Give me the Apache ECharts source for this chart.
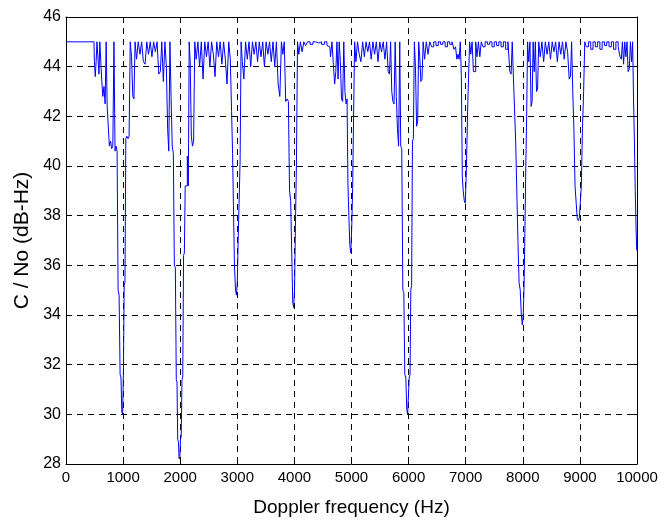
<!DOCTYPE html>
<html>
<head>
<meta charset="utf-8">
<script src="https://cdn.jsdelivr.net/npm/echarts@6/dist/echarts.min.js"></script>
<style>
  html, body { margin: 0; padding: 0; background: #fff; }
  #chart { width: 663px; height: 522px; }
</style>
</head>
<body>
<div id="chart"></div>
<script>
// Doppler frequency offsets (Hz) and the matching C/No readings (dB-Hz)
const dopplerHz = [
  0, 490, 505, 520, 535, 550, 570, 585, 600, 615,
  635, 655, 675, 695, 712, 730, 750, 770, 790, 810,
  830, 850, 868, 885, 905, 920, 940, 955, 970, 985,
  1000, 1012, 1025, 1040, 1055, 1075, 1095, 1115, 1135, 1160,
  1180, 1200, 1220, 1250, 1280, 1310, 1340, 1370, 1400, 1430,
  1460, 1490, 1520, 1550, 1580, 1610, 1640, 1665, 1690, 1720,
  1745, 1770, 1790, 1810, 1830, 1850, 1870, 1890, 1905, 1925,
  1938, 1950, 1962, 1975, 1988, 2000, 2010, 2025, 2037, 2052,
  2066, 2080, 2095, 2115, 2135, 2150, 2165, 2185, 2205, 2225,
  2245, 2265, 2295, 2325, 2355, 2385, 2415, 2445, 2475, 2505,
  2535, 2565, 2595, 2625, 2655, 2685, 2715, 2745, 2775, 2805,
  2835, 2865, 2890, 2910, 2925, 2940, 2960, 2978, 2992, 3008,
  3022, 3040, 3058, 3075, 3100, 3130, 3160, 3190, 3220, 3250,
  3280, 3310, 3340, 3370, 3400, 3430, 3460, 3490, 3520, 3550,
  3580, 3610, 3640, 3670, 3700, 3730, 3760, 3785, 3810, 3835,
  3860, 3885, 3905, 3925, 3945, 3962, 3980, 3995, 4010, 4025,
  4045, 4065, 4090, 4120, 4150, 4180, 4210, 4250, 4300, 4350,
  4400, 4450, 4500, 4550, 4590, 4620, 4645, 4670, 4695, 4715,
  4735, 4755, 4775, 4795, 4815, 4835, 4855, 4875, 4895, 4915,
  4930, 4945, 4962, 4980, 4995, 5012, 5028, 5045, 5065, 5090,
  5120, 5150, 5180, 5210, 5240, 5270, 5300, 5330, 5360, 5390,
  5420, 5450, 5480, 5510, 5540, 5570, 5600, 5630, 5655, 5675,
  5695, 5715, 5735, 5755, 5775, 5795, 5815, 5835, 5855, 5870,
  5890, 5908, 5925, 5942, 5960, 5975, 5990, 6005, 6018, 6032,
  6045, 6060, 6075, 6092, 6110, 6130, 6150, 6168, 6185, 6205,
  6225, 6245, 6265, 6295, 6325, 6355, 6385, 6420, 6460, 6500,
  6540, 6580, 6620, 6660, 6700, 6740, 6780, 6810, 6835, 6855,
  6875, 6895, 6915, 6933, 6948, 6965, 6985, 7000, 7015, 7030,
  7045, 7060, 7078, 7100, 7125, 7145, 7165, 7185, 7210, 7235,
  7260, 7285, 7320, 7360, 7400, 7440, 7480, 7520, 7560, 7600,
  7640, 7680, 7720, 7760, 7785, 7805, 7825, 7845, 7865, 7885,
  7905, 7925, 7945, 7965, 7983, 8000, 8015, 8030, 8045, 8060,
  8075, 8092, 8115, 8135, 8155, 8172, 8190, 8210, 8230, 8250,
  8268, 8290, 8320, 8350, 8380, 8410, 8440, 8470, 8500, 8530,
  8560, 8590, 8620, 8650, 8680, 8710, 8740, 8770, 8800, 8825,
  8845, 8865, 8885, 8905, 8925, 8945, 8962, 8980, 8998, 9015,
  9035, 9055, 9075, 9095, 9130, 9170, 9210, 9250, 9290, 9330,
  9370, 9410, 9450, 9490, 9530, 9570, 9610, 9650, 9690, 9715,
  9735, 9755, 9775, 9795, 9815, 9835, 9855, 9875, 9895, 9915,
  9932, 9947, 9962, 9977, 9990, 10000
];

const cn0dBHz = [
  45, 45, 44.2, 43.6, 44.2, 45, 45, 43.7, 45, 45,
  43.5, 42.8, 43.2, 42.5, 45, 42.4, 41.6, 40.8, 41.0, 40.7,
  40.8, 45, 40.6, 40.8, 40.6, 35.0, 34.8, 31.6, 31.5, 30.1,
  30.0, 31.8, 35.2, 35.3, 41.1, 41.2, 41.1, 41.2, 45, 44.4,
  42.8, 42.7, 45, 44.3, 45, 44.5, 45, 44.2, 44.1, 45,
  44.5, 45, 44.4, 45, 44.6, 45, 43.7, 43.8, 45, 43.4,
  45, 44.0, 41.5, 40.6, 45, 42.8, 40.8, 40.5, 36.0, 35.9,
  31.4, 31.3, 29.0, 28.9, 28.2, 28.3, 29.0, 29.1, 31.4, 31.5,
  36.4, 36.5, 39.2, 39.2, 40.4, 39.2, 45, 44.2, 41.2, 40.8,
  41.0, 45, 44.3, 45, 44.0, 45, 43.5, 45, 44.4, 45,
  44.0, 45, 44.5, 43.6, 45, 44.4, 45, 44.1, 45, 44.3,
  43.3, 45, 44.3, 42.2, 40.5, 38.4, 36.0, 35.0, 34.8, 35.3,
  37.0, 38.5, 40.2, 45, 44.2, 43.5, 45, 44.3, 45, 44.0,
  45, 44.5, 45, 44.2, 45, 44.4, 45, 44.0, 45, 44.5,
  45, 44.2, 45, 44.0, 45, 43.3, 42.8, 45, 44.5, 45,
  42.6, 42.7, 42.6, 39.0, 38.6, 36.5, 34.5, 34.3, 35.0, 37.5,
  40.0, 45, 44.5, 45, 44.6, 45, 44.85, 45, 44.9, 45,
  44.95, 45, 44.9, 45, 44.85, 44.8, 44.4, 45, 44.1, 43.3,
  43.8, 45, 43.5, 45, 44.2, 42.7, 42.6, 45, 43.0, 42.5,
  42.7, 39.3, 38.0, 36.8, 36.5, 37.5, 39.1, 42.0, 45, 44.2,
  45, 44.5, 44.2, 45, 44.4, 45, 44.6, 45, 44.3, 45,
  44.5, 45, 44.2, 45, 44.6, 45, 44.3, 45, 43.8, 43.7,
  45, 43.0, 42.6, 42.5, 45, 42.8, 41.5, 40.8, 45, 40.8,
  40.7, 35.0, 34.9, 31.6, 31.5, 30.2, 30.0, 30.0, 31.5, 31.6,
  35.0, 35.2, 41.0, 41.1, 45, 44.0, 41.6, 41.8, 45, 44.4,
  43.4, 43.5, 45, 44.3, 45, 44.5, 45, 44.8, 45, 44.85,
  45, 44.9, 45, 44.8, 45, 44.9, 45, 44.7, 44.8, 44.3,
  44.5, 44.3, 45, 43.6, 39.6, 39.0, 38.6, 38.5, 39.5, 41.0,
  42.6, 42.6, 45, 44.5, 45, 43.8, 43.8, 45, 44.4, 45,
  44.4, 45, 44.8, 45, 44.9, 45, 44.8, 45, 44.85, 45,
  44.8, 45, 44.7, 45, 43.8, 43.7, 45, 43.6, 42.3, 41.0,
  39.0, 37.0, 35.3, 35.0, 34.0, 33.6, 34.0, 35.2, 37.5, 40.0,
  42.0, 45, 44.2, 45, 42.4, 42.6, 45, 43.8, 45, 43.0,
  43.1, 45, 44.4, 45, 44.2, 45, 44.5, 45, 44.3, 45,
  44.6, 45, 44.2, 45, 44.5, 45, 44.3, 45, 44.6, 43.5,
  43.6, 45, 43.0, 41.5, 39.2, 38.5, 37.9, 37.8, 37.9, 38.5,
  39.2, 41.5, 43.0, 45, 44.8, 45, 44.7, 45, 44.8, 45,
  44.7, 45, 44.85, 45, 44.8, 45, 44.7, 45, 44.8, 44.4,
  44.3, 45, 44.1, 45, 44.4, 45, 43.8, 43.9, 45, 44.2,
  45, 42.7, 41.0, 39.0, 37.5, 36.6
];

const xTicks = { min: 0, max: 10000, step: 1000 };
const yTicks = { min: 28, max: 46, step: 2 };

const trace = dopplerHz.map((f, i) => [f, cn0dBHz[i]]);

const FONT = '"Liberation Sans", Arial, Helvetica, sans-serif';
const gridDash = { color: '#000', width: 1, type: [6, 5] };
const boxLine = { show: true, onZero: false, lineStyle: { color: '#000', width: 1 } };
const inTick = { show: true, inside: true, length: 5, lineStyle: { color: '#000' } };

const chart = echarts.init(document.getElementById('chart'), null, { renderer: 'canvas' });

chart.setOption({
  animation: false,
  backgroundColor: '#fff',
  grid: { left: 66, right: 26, top: 17, bottom: 55, show: false },
  xAxis: [
    {
      type: 'value', position: 'bottom',
      min: xTicks.min, max: xTicks.max, interval: xTicks.step,
      name: 'Doppler frequency (Hz)', nameLocation: 'middle', nameGap: 34,
      nameTextStyle: { fontFamily: FONT, fontSize: 19, color: '#000' },
      axisLine: boxLine,
      axisTick: inTick,
      axisLabel: { fontFamily: FONT, fontSize: 15, color: '#000', margin: 6,
                   formatter: v => String(v) },
      splitLine: { show: true, lineStyle: gridDash }
    },
    {
      type: 'value', position: 'top',
      min: xTicks.min, max: xTicks.max, interval: xTicks.step,
      axisLine: boxLine, axisTick: inTick,
      axisLabel: { show: false }, splitLine: { show: false }
    }
  ],
  yAxis: [
    {
      type: 'value', position: 'left',
      min: yTicks.min, max: yTicks.max, interval: yTicks.step,
      name: 'C / No (dB-Hz)', nameLocation: 'middle', nameGap: 31, nameRotate: 90,
      nameTextStyle: { fontFamily: FONT, fontSize: 21, color: '#000' },
      axisLine: boxLine,
      axisTick: inTick,
      axisLabel: { fontFamily: FONT, fontSize: 16, color: '#000', margin: 5 },
      splitLine: { show: true, lineStyle: gridDash }
    },
    {
      type: 'value', position: 'right',
      min: yTicks.min, max: yTicks.max, interval: yTicks.step,
      axisLine: boxLine, axisTick: inTick,
      axisLabel: { show: false }, splitLine: { show: false }
    }
  ],
  series: [
    {
      type: 'line',
      xAxisIndex: 0, yAxisIndex: 0,
      data: trace,
      step: 'middle',
      showSymbol: false,
      symbol: 'none',
      lineStyle: { color: '#0000ff', width: 1 },
      z: 3
    }
  ]
});
</script>
</body>
</html>
